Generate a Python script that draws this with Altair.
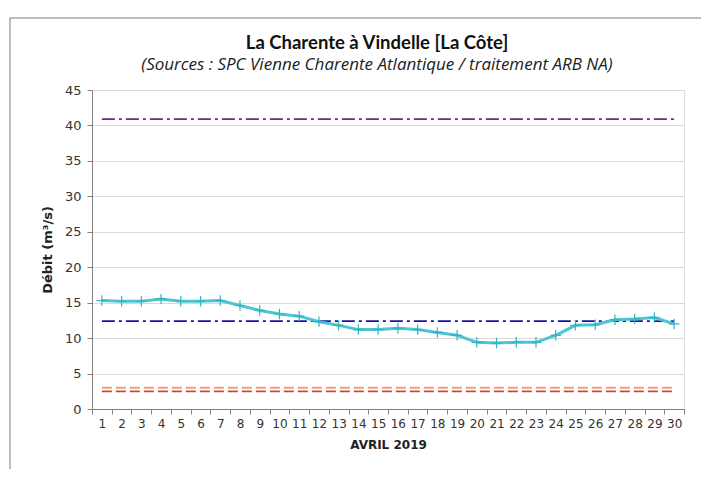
import altair as alt
import pandas as pd

days = [str(d) for d in range(1, 31)]
debit = [15.3, 15.2, 15.2, 15.5, 15.2, 15.2, 15.3, 14.6, 13.9, 13.4,
         13.1, 12.3, 11.8, 11.2, 11.2, 11.4, 11.2, 10.8, 10.4, 9.4,
         9.3, 9.4, 9.4, 10.4, 11.8, 11.9, 12.6, 12.7, 12.9, 12.0]

seuil_values = [40.9, 12.4, 3.0, 2.5]
seuil_colors = ["#74288A", "#1414A8", "#F0A070", "#C04A3C"]
seuil_dash = [[13, 4, 3, 4], [13, 4, 3, 4], [10, 4], [10, 4]]

y_ticks = list(range(0, 50, 5))

main_df = pd.DataFrame({"day": days, "v": debit})

x_enc = alt.X(
    "day:O", sort=days, bandPosition=0.5,
    scale=alt.Scale(type="band", paddingInner=0, paddingOuter=0),
    axis=alt.Axis(title="AVRIL 2019", labelAngle=0, tickBand="extent",
                  labelFont="DejaVu Sans", labelFontSize=12, labelColor="#333333",
                  labelPadding=4, tickSize=5, tickColor="#808080",
                  domainColor="#808080", titleFont="DejaVu Sans",
                  titleFontSize=12, titleFontWeight="bold", titleColor="#222222",
                  titlePadding=10, grid=False))
y_enc = alt.Y(
    "v:Q", scale=alt.Scale(domain=[0, 45], nice=False),
    axis=alt.Axis(title="Débit (m³/s)", values=y_ticks, labelFont="DejaVu Sans",
                  labelFontSize=13, labelColor="#333333", labelPadding=6,
                  tickSize=5, tickColor="#808080", domainColor="#808080",
                  gridColor="#D9D9D9", gridWidth=1, titleFont="DejaVu Sans",
                  titleFontSize=13, titleFontWeight="bold", titleColor="#222222",
                  titlePadding=10))

layers = []
frame = alt.Chart(pd.DataFrame({"a": [0]})).mark_rect(
    fill="transparent", stroke="#A8A8A8", strokeWidth=1.5).encode(
    x=alt.value(-82), x2=alt.value(640), y=alt.value(-72), y2=alt.value(420))
layers.append(frame)

for val, col, dash in zip(seuil_values, seuil_colors, seuil_dash):
    sdf = pd.DataFrame({"day": days, "v": [val] * len(days)})
    layers.append(alt.Chart(sdf).mark_line(color=col, strokeWidth=1.8, strokeDash=dash)
                  .encode(x=x_enc, y=y_enc))

line = alt.Chart(main_df).mark_line(color="#4CC6D2", strokeWidth=3).encode(x=x_enc, y=y_enc)
pts = alt.Chart(main_df).mark_point(shape="M-1,0H1M0,-1V1", size=110, color="#30B4C4",
                                    strokeWidth=1.2, filled=False, opacity=1).encode(x=x_enc, y=y_enc)
layers += [line, pts]

chart = alt.layer(*layers).properties(
    width=592, height=319,
    title=alt.TitleParams(
        text="La Charente à Vindelle [La Côte]",
        subtitle="(Sources : SPC Vienne Charente Atlantique / traitement ARB NA)",
        font="Lato", fontSize=18.5, fontWeight="bold", color="#111111",
        subtitleFont="Open Sans", subtitleFontSize=17, subtitleFontStyle="italic",
        subtitleColor="#222222", anchor="middle", dx=-11, offset=-56, subtitlePadding=5),
    autosize=alt.AutoSizeParams(type="none"),
    padding={"left": 84, "top": 82, "right": 17, "bottom": 60},
).configure_view(stroke="#C8C8C8").configure(background="white")

chart.save("out.html", embed_options={"renderer": "svg", "actions": False})
